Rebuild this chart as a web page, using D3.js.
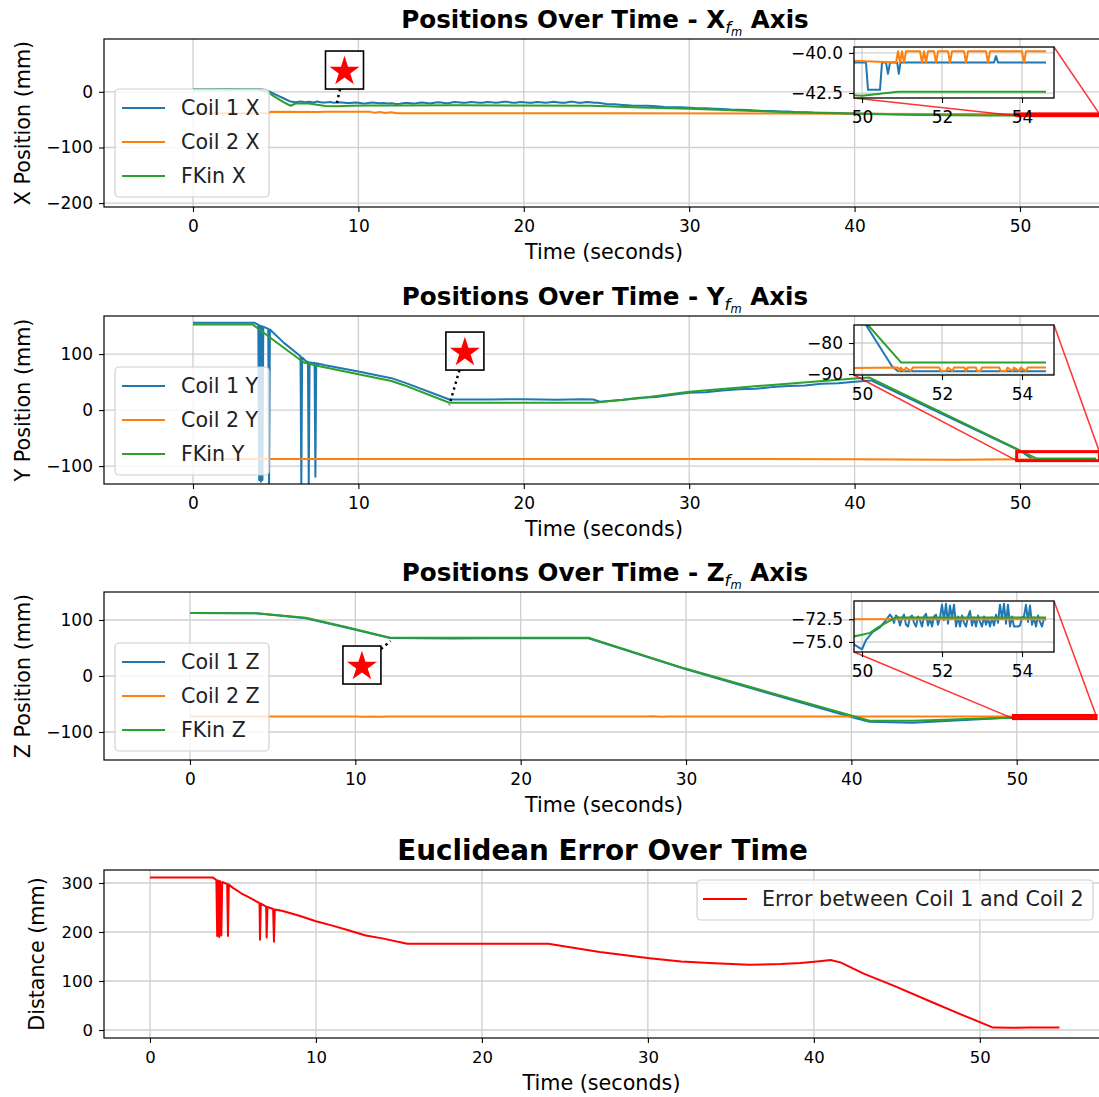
<!DOCTYPE html>
<html>
<head>
<meta charset="utf-8">
<script src="https://cdn.jsdelivr.net/npm/d3@7"></script>
<style>
  body { margin: 0; background: #fff; }
  svg { display: block; }
</style>
</head>
<body>
<svg id="chart" width="1099" height="1097"></svg>
<script>
// ---------- data: [time (s), value (mm)] ----------
const coil1X = [[0,4.8],[1,4.5],[2,5],[3,4.6],[4.2,4.5],[4.6,1],[5.0,-5],[5.5,-12],[5.9,-17.5],[6.2,-18.5],[6.5,-17.5],[6.8,-18.8],[7,-18],[7.3,-19],[7.5,-17.5],[7.8,-19.2],[8,-19],[8.3,-18.2],[8.5,-19.5],[8.8,-18.6],[9,-19],[9.3,-20.2],[9.5,-20],[9.8,-19],[10,-19.5],[10.3,-20.8],[10.5,-20.5],[10.8,-19.2],[11,-19.5],[11.3,-20.6],[11.5,-20],[11.8,-21],[12,-20.5],[12.3,-21.8],[12.5,-21.5],[12.8,-20.2],[13,-20],[13.3,-21],[13.5,-20.5],[13.8,-19.2],[14,-19.5],[14.3,-20.8],[14.5,-20],[14.8,-18.6],[15,-19],[15.3,-20.4],[15.5,-20],[15.8,-18.4],[16,-18.5],[16.3,-19.8],[16.5,-19.5],[16.8,-18.2],[17,-18.5],[17.3,-19.8],[17.5,-19.5],[17.8,-18.2],[18,-18.5],[18.3,-19.6],[18.5,-19],[18.8,-17.9],[19,-18],[19.3,-19.6],[19.5,-19.5],[19.8,-18.1],[20,-18.5],[20.3,-19.8],[20.5,-19.5],[20.8,-18.2],[21,-18.5],[21.3,-19.6],[21.5,-19],[21.8,-18],[22,-18.5],[22.3,-19.8],[22.5,-19.5],[22.8,-17.9],[23,-18],[23.3,-19.6],[23.5,-19.5],[23.8,-18.2],[24,-18.5],[24.3,-19.8],[24.5,-19.5],[25,-22],[25.5,-22.5],[26,-23.5],[26.5,-24.6],[27,-25],[27.5,-25.2],[28,-26],[28.5,-27.2],[29,-27.5],[29.5,-27.6],[30,-28.5],[30.5,-29.4],[31,-29.5],[31.5,-30.2],[32,-31],[32.5,-31.9],[33,-32],[33.5,-32.6],[34,-33.5],[34.5,-34.4],[35,-34.5],[35.5,-35.2],[36,-35.5],[36.5,-36.5],[37,-36.5],[37.5,-37.3],[38,-37.5],[39,-38],[40,-39],[42,-40],[44,-40.5],[46,-40.5],[48,-40.6],[50.1,-40.6],[50.15,-42.3],[50.45,-42.3],[50.5,-40.6],[50.6,-40.6],[50.65,-41.3],[50.7,-40.6],[50.88,-40.6],[50.92,-41.3],[50.96,-40.6],[53.3,-40.6],[53.35,-40.2],[53.4,-40.6],[54.6,-40.6]];
const coil2X = [[0,-38.4],[4.6,-38.4],[4.7,-36],[7.5,-36.2],[8,-35.8],[10.7,-36],[11,-37.5],[11.3,-36.2],[11.6,-38],[12,-36.5],[12.3,-38.4],[16,-38.4],[25,-38.6],[35,-39],[45,-40],[50.85,-40.6],[50.9,-39.9],[50.95,-40.6],[51.0,-39.9],[51.05,-40.6],[51.1,-39.9],[51.45,-39.9],[51.5,-40.6],[51.55,-39.9],[51.6,-40.6],[51.65,-39.9],[51.8,-39.9],[51.85,-40.6],[51.9,-39.9],[52.15,-39.9],[52.2,-40.6],[52.25,-39.9],[52.55,-39.9],[52.6,-40.6],[52.65,-39.9],[53.1,-39.9],[53.15,-40.6],[53.2,-39.9],[54.0,-39.9],[54.05,-40.6],[54.1,-39.9],[54.6,-39.9]];
const fkinX = [[0,4],[3.9,4],[4.5,0],[5.0,-10],[5.5,-19],[5.9,-25],[6.2,-21],[7,-21],[7.5,-23],[8,-25.5],[8.7,-26],[9.5,-25],[10.5,-24.5],[12,-24.5],[16,-24],[20,-24.5],[24,-25],[25,-26],[27,-28],[30,-30.5],[33,-33.5],[36.7,-37],[40,-39.5],[44,-41.5],[48,-42.4],[50,-42.67],[50.9,-42.42],[54.6,-42.42]];

const coil1Y = [[0,156],[3.7,156],[3.95,152],[4.0,-125],[4.05,151],[4.1,-128],[4.15,150],[4.2,-125],[4.25,149],[4.55,145],[4.6,-135],[4.65,144],[5.5,120],[6.5,96],[6.55,-135],[6.6,94],[6.8,88],[6.95,86],[7.0,-135],[7.05,85],[7.35,84],[7.4,-119],[7.45,83.5],[8,80],[10,69],[12,57],[12.8,49],[15.5,19],[18,19],[20,19.5],[22,18.5],[23.5,19.5],[24.2,19],[24.6,15],[26,18.5],[27,22],[28,23.5],[29,27.5],[30,31],[31,32],[32,35],[33,37],[34,38],[35,41],[36,43],[37,44],[38,47],[39,48],[40,50.6],[41,53],[50.1,-74.2],[50.75,-87.5],[50.9,-89.1],[54.6,-89.1]];
const coil2Y = [[0,-87.5],[10,-87.3],[20,-87.5],[30,-87.3],[40,-87.6],[46,-88.5],[50.9,-87.9],[50.93,-89],[50.97,-87.9],[51.05,-89],[51.1,-87.9],[51.22,-89],[51.27,-87.9],[51.93,-87.9],[51.97,-89],[52.1,-89],[52.15,-87.9],[52.26,-89],[52.3,-87.9],[52.56,-87.9],[52.6,-89],[52.64,-87.9],[52.85,-87.9],[52.88,-89],[52.96,-89],[53.0,-87.9],[53.43,-87.9],[53.47,-89],[53.6,-89],[53.64,-87.9],[53.76,-89],[53.8,-87.9],[53.93,-89],[53.97,-87.9],[54.1,-89],[54.14,-87.9],[54.6,-87.9]];
const fkinY = [[0,153],[3.6,153],[5,122],[6.7,85],[7.5,79],[10,64],[12,52],[12.8,44],[15.5,13],[24.2,13],[27,21],[30,32.7],[35,45],[40,56.6],[40.9,58],[50.15,-74.2],[50.98,-86.3],[54.6,-86.3]];

const coil1Z = [[0,112.5],[4,112],[7,103],[9.5,86],[12.1,68],[14,67.5],[16,67],[18,67.5],[20,67.5],[22,67.5],[24.1,67.5],[29.9,13],[35,-31],[40.1,-74],[41.1,-81.6],[43.7,-83.3],[46,-80],[49.5,-74.5],[50,-75.8],[50.1,-74.8],[50.27,-73.9],[50.45,-73.4],[50.6,-72.6],[50.7,-72.0],[50.75,-72.3],[50.8,-72.9],[50.85,-72.1],[50.9,-72.3],[50.95,-73.2],[51.0,-72.4],[51.05,-72.0],[51.1,-73.1],[51.15,-73.3],[51.2,-72.3],[51.25,-72.1],[51.3,-72.9],[51.35,-73.3],[51.4,-72.2],[51.45,-72.6],[51.5,-73.3],[51.55,-72.2],[51.6,-71.9],[51.65,-73.2],[51.7,-72.4],[51.75,-73.3],[51.8,-72.2],[51.85,-72.0],[51.9,-73.1],[51.95,-72.3],[52.0,-70.9],[52.05,-72.6],[52.1,-70.8],[52.15,-73.0],[52.2,-71.0],[52.25,-72.4],[52.3,-70.9],[52.35,-73.3],[52.4,-72.2],[52.45,-73.3],[52.5,-72.1],[52.55,-72.9],[52.6,-73.3],[52.65,-72.2],[52.7,-71.6],[52.75,-73.2],[52.8,-72.3],[52.85,-73.3],[52.9,-72.1],[52.95,-72.8],[53.0,-73.3],[53.05,-72.2],[53.1,-73.1],[53.15,-72.4],[53.2,-73.3],[53.25,-72.3],[53.3,-73.2],[53.35,-72.0],[53.4,-72.9],[53.45,-70.9],[53.5,-72.5],[53.55,-70.8],[53.6,-73.0],[53.65,-70.9],[53.7,-73.3],[53.75,-72.2],[53.8,-73.3],[53.85,-73.3],[53.9,-73.3],[53.95,-73.2],[54.0,-72.3],[54.05,-72.2],[54.1,-70.9],[54.15,-72.8],[54.2,-71.0],[54.25,-73.1],[54.3,-72.3],[54.35,-73.3],[54.4,-72.1],[54.45,-72.8],[54.5,-73.3],[54.55,-72.4],[54.6,-72.6]];
const coil2Z = [[0,-72.5],[10,-72.3],[10.5,-72.9],[11,-72.2],[11.5,-72.8],[12,-72.5],[27.5,-72.5],[28,-72.0],[28.5,-72.8],[29,-72.5],[54.6,-72.5]];
const fkinZ = [[0,112.5],[4,112],[7,104],[9.5,87],[12.1,68.4],[24.1,68.4],[29.9,13.7],[35,-29],[40.3,-73],[41.1,-79.8],[43.7,-79.8],[47,-77],[50,-74.2],[50.2,-74.0],[50.4,-73.4],[50.6,-72.9],[50.85,-72.3],[54.6,-72.3]];

const errorDist = [[0,311],[3.8,311],[4.0,306],[4.05,192],[4.1,305],[4.17,190],[4.22,304],[4.3,193],[4.35,302],[4.65,298],[4.7,192],[4.75,297],[5,290],[5.5,279],[6,270],[6.6,259],[6.63,184],[6.68,258],[7.0,252],[7.03,189],[7.08,251],[7.42,247],[7.47,180],[7.52,246],[8,243],[9,233],[10,222],[11,213],[12,203],[13,193],[14,187],[15.5,176],[18,176],[21,176],[24,176],[25.5,168],[27.1,159],[30.1,146.6],[32,140],[34,136],[36.1,133],[38,134.5],[39.2,136.6],[40.5,141],[41,143],[41.6,138],[43,115],[44.8,90.7],[47.2,55.6],[49,30],[50.8,5],[52,4.5],[53,5],[54.8,5]];

// ---------- ticks ----------
const timeTicks = [0,10,20,30,40,50];
const xPosTicks = [-200,-100,0];
const yPosTicks = [-100,0,100];
const zPosTicks = [-100,0,100];
const distTicks = [0,100,200,300];
const zoomTimeTicks = [50,52,54];
const zoomXTicks = [-40.0,-42.5];
const zoomYTicks = [-80,-90];
const zoomZTicks = [-72.5,-75.0];

// ---------- zoom windows (time range, value range) ----------
const zoomTime = [49.8,54.8];
const zoomXRange = [-42.81,-39.63];
const zoomYRange = [-90.3,-74.2];
const zoomZRange = [-76.1,-70.5];

// ---------- star callouts: [time, value] ----------
const starX = { box:[9.16,39.2], point:[8.7,-20] };
const starY = { box:[16.44,105.4], point:[15.5,8.9] };
const starZ = { box:[10.4,19.6], point:[12.13,62.5] };

const FONT = '"DejaVu Sans", "Liberation Sans", sans-serif';
const BLUE = "#1f77b4", ORANGE = "#ff7f0e", GREEN = "#2ca02c", RED = "#ff0000";
const GRID = "#cfcfcf";
const svg = d3.select("#chart");
const defs = svg.append("defs");

function styleAxis(g, size) {
  g.select(".domain").remove();
  g.attr("font-family", null).attr("font-size", null);
  g.selectAll(".tick line").attr("stroke", "#000").attr("stroke-width", 1.1);
  g.selectAll(".tick text").attr("fill", "#000").style("font-family", FONT).style("font-size", size + "px");
}

function drawLines(g, x, y, series, clipId) {
  const line = d3.line().x(d => x(d[0])).y(d => y(d[1]));
  g.append("g").attr("clip-path", `url(#${clipId})`)
    .selectAll("path").data(series).join("path")
    .attr("d", s => line(s.data))
    .attr("fill", "none")
    .attr("stroke", s => s.color)
    .attr("stroke-width", 2)
    .attr("stroke-linejoin", "round");
}

function addClip(id, x0, y0, w, h) {
  defs.append("clipPath").attr("id", id).append("rect")
    .attr("x", x0).attr("y", y0).attr("width", w).attr("height", h);
}

function drawPanel(p) {
  const g = svg.append("g");
  const x = d3.scaleLinear().domain(p.xDomain).range([p.left, p.right]);
  const y = d3.scaleLinear().domain(p.yDomain).range([p.bottom, p.top]);
  const clipId = "clip-" + p.id;
  addClip(clipId, p.left, p.top, p.right - p.left, p.bottom - p.top);

  // grid
  const grid = g.append("g").attr("stroke", GRID).attr("stroke-width", 1.3);
  grid.selectAll(".vx").data(p.xTicks).join("line")
    .attr("x1", d => x(d)).attr("x2", d => x(d)).attr("y1", p.top).attr("y2", p.bottom);
  grid.selectAll(".hy").data(p.yTicks).join("line")
    .attr("x1", p.left).attr("x2", p.right).attr("y1", d => y(d)).attr("y2", d => y(d));

  drawLines(g, x, y, p.series, clipId);

  // frame
  g.append("rect").attr("x", p.left).attr("y", p.top)
    .attr("width", p.right - p.left).attr("height", p.bottom - p.top)
    .attr("fill", "none").attr("stroke", "#000").attr("stroke-width", 1.2);

  // axes
  g.append("g").attr("transform", `translate(0,${p.bottom})`)
    .call(d3.axisBottom(x).tickValues(p.xTicks).tickSize(5).tickPadding(8).tickFormat(d3.format("d")))
    .call(a => styleAxis(a, p.tickSize));
  g.append("g").attr("transform", `translate(${p.left},0)`)
    .call(d3.axisLeft(y).tickValues(p.yTicks).tickSize(5).tickPadding(6).tickFormat(d3.format("d")))
    .call(a => styleAxis(a, p.tickSize));

  // title
  const t = g.append("text").attr("x", (p.left + p.right) / 2).attr("y", p.top - p.titleGap)
    .attr("text-anchor", "middle").style("font-family", FONT).style("font-weight", "bold")
    .style("font-size", p.titleSize + "px").attr("fill", "#000");
  if (p.axisName) {
    t.append("tspan").text("Positions Over Time - " + p.axisName);
    t.append("tspan").text("f").attr("dy", 5).style("font-size", "16.5px")
      .style("font-style", "italic").style("font-weight", "normal");
    t.append("tspan").text("m").attr("dy", 3).style("font-size", "11.5px")
      .style("font-style", "italic").style("font-weight", "normal");
    t.append("tspan").text(" Axis").attr("dy", -8);
  } else {
    t.text(p.title);
  }

  // axis labels
  g.append("text").attr("x", (p.left + p.right) / 2 - 1).attr("y", p.bottom + 52)
    .attr("text-anchor", "middle").style("font-family", FONT).style("font-size", p.labelSize + "px")
    .attr("fill", "#000").text("Time (seconds)");
  g.append("text").attr("transform", `translate(${p.ylabelX},${(p.top + p.bottom) / 2}) rotate(-90)`)
    .attr("text-anchor", "middle").style("font-family", FONT).style("font-size", p.labelSize + "px")
    .attr("fill", "#000").text(p.ylabel);

  // star callout
  if (p.star) drawStar(g, x, y, p.star);

  // legend
  drawLegend(g, p.legend, p.series);

  // zoomed inset
  if (p.inset) drawInset(g, x, y, p);
}

function drawStar(g, x, y, s) {
  const bx = x(s.box[0]), by = y(s.box[1]);
  const px = x(s.point[0]), py = y(s.point[1]);
  const half = 19;
  // leave the box from its edge along the line towards the point
  const dx = px - bx, dy = py - by;
  const k = half / Math.max(Math.abs(dx), Math.abs(dy));
  g.append("line").attr("x1", bx + dx * k).attr("y1", by + dy * k).attr("x2", px).attr("y2", py)
    .attr("stroke", "#000").attr("stroke-width", 2.4).attr("stroke-dasharray", "2.4,3.6");
  g.append("rect").attr("x", bx - half).attr("y", by - half).attr("width", 2 * half).attr("height", 2 * half)
    .attr("fill", "#fff").attr("stroke", "#000").attr("stroke-width", 1.6);
  g.append("path").attr("d", d3.symbol(d3.symbolStar, 280)())
    .attr("transform", `translate(${bx},${by + 1.5})`).attr("fill", RED);
}

function drawLegend(g, L, series) {
  const lg = g.append("g");
  lg.append("rect").attr("x", L.x).attr("y", L.y).attr("width", L.w).attr("height", L.h)
    .attr("rx", 4).attr("fill", "#fff").attr("fill-opacity", 0.8)
    .attr("stroke", "#d0d0d0").attr("stroke-width", 1.2);
  const rows = lg.selectAll(".row").data(series).join("g")
    .attr("transform", (d, i) => `translate(${L.x},${L.y + L.first + i * L.step})`);
  rows.append("line").attr("x1", L.lineX0).attr("x2", L.lineX1).attr("y1", 0).attr("y2", 0)
    .attr("stroke", d => d.color).attr("stroke-width", 2);
  rows.append("text").attr("x", L.textX).attr("y", 0).attr("dy", "0.36em")
    .style("font-family", FONT).style("font-size", L.size + "px").attr("fill", "#222").text(d => d.name);
}

function drawInset(g, x, y, p) {
  const I = p.inset;
  const ix = d3.scaleLinear().domain(zoomTime).range([I.left, I.right]);
  const iy = d3.scaleLinear().domain(I.range).range([I.bottom, I.top]);

  // zoom marker on the main axes
  const rx0 = x(zoomTime[0]), rx1 = x(zoomTime[1]);
  const ry0 = y(I.range[0]), ry1 = y(I.range[1]);
  g.append("rect").attr("x", rx0).attr("y", ry1).attr("width", rx1 - rx0).attr("height", ry0 - ry1)
    .attr("fill", "none").attr("stroke", RED).attr("stroke-width", 3);
  g.append("line").attr("x1", I.left).attr("y1", I.bottom).attr("x2", rx0).attr("y2", ry0)
    .attr("stroke", RED).attr("stroke-width", 1.5).attr("stroke-opacity", 0.8);
  g.append("line").attr("x1", I.right).attr("y1", I.top).attr("x2", rx1).attr("y2", ry1)
    .attr("stroke", RED).attr("stroke-width", 1.5).attr("stroke-opacity", 0.8);

  const ig = g.append("g");
  const clipId = "clip-inset-" + p.id;
  addClip(clipId, I.left, I.top, I.right - I.left, I.bottom - I.top);
  ig.append("rect").attr("x", I.left).attr("y", I.top).attr("width", I.right - I.left)
    .attr("height", I.bottom - I.top).attr("fill", "#fff");
  const grid = ig.append("g").attr("stroke", GRID).attr("stroke-width", 1.3);
  grid.selectAll(".vx").data(zoomTimeTicks).join("line")
    .attr("x1", d => ix(d)).attr("x2", d => ix(d)).attr("y1", I.top).attr("y2", I.bottom);
  grid.selectAll(".hy").data(I.ticks).join("line")
    .attr("x1", I.left).attr("x2", I.right).attr("y1", d => iy(d)).attr("y2", d => iy(d));
  drawLines(ig, ix, iy, p.series, clipId);
  ig.append("rect").attr("x", I.left).attr("y", I.top).attr("width", I.right - I.left)
    .attr("height", I.bottom - I.top).attr("fill", "none").attr("stroke", "#000").attr("stroke-width", 1.3);
  ig.append("g").attr("transform", `translate(0,${I.bottom})`)
    .call(d3.axisBottom(ix).tickValues(zoomTimeTicks).tickSize(5).tickPadding(8).tickFormat(d3.format("d")))
    .call(a => styleAxis(a, p.tickSize));
  ig.append("g").attr("transform", `translate(${I.left},0)`)
    .call(d3.axisLeft(iy).tickValues(I.ticks).tickSize(5).tickPadding(6).tickFormat(d3.format(I.fmt)))
    .call(a => styleAxis(a, p.tickSize));
}

const posLegend = (top) => ({ x: 115, y: top, w: 154, h: 108, first: 19, step: 34,
  lineX0: 7, lineX1: 50, textX: 66, size: 20.6 });

const panels = [
  { id: "x", axisName: "X", ylabel: "X Position (mm)", left: 104, right: 1106, top: 39, bottom: 207,
    xDomain: [-5.38, 55.2], yDomain: [-207, 95], xTicks: timeTicks, yTicks: xPosTicks,
    tickSize: 17, labelSize: 20.7, titleSize: 24.6, titleGap: 11, ylabelX: 30,
    series: [{ data: coil1X, color: BLUE, name: "Coil 1 X" }, { data: coil2X, color: ORANGE, name: "Coil 2 X" },
             { data: fkinX, color: GREEN, name: "FKin X" }],
    legend: posLegend(89), star: starX,
    inset: { left: 854, right: 1054, top: 47, bottom: 98, range: zoomXRange, ticks: zoomXTicks, fmt: ".1f" } },
  { id: "y", axisName: "Y", ylabel: "Y Position (mm)", left: 104, right: 1106, top: 316, bottom: 484,
    xDomain: [-5.38, 55.2], yDomain: [-132, 168], xTicks: timeTicks, yTicks: yPosTicks,
    tickSize: 17, labelSize: 20.7, titleSize: 24.6, titleGap: 11, ylabelX: 30,
    series: [{ data: coil1Y, color: BLUE, name: "Coil 1 Y" }, { data: coil2Y, color: ORANGE, name: "Coil 2 Y" },
             { data: fkinY, color: GREEN, name: "FKin Y" }],
    legend: posLegend(367), star: starY,
    inset: { left: 854, right: 1054, top: 325, bottom: 375, range: zoomYRange, ticks: zoomYTicks, fmt: "d" } },
  { id: "z", axisName: "Z", ylabel: "Z Position (mm)", left: 104, right: 1106, top: 592, bottom: 760,
    xDomain: [-5.2, 55.4], yDomain: [-150, 150], xTicks: timeTicks, yTicks: zPosTicks,
    tickSize: 17, labelSize: 20.7, titleSize: 24.6, titleGap: 11, ylabelX: 30,
    series: [{ data: coil1Z, color: BLUE, name: "Coil 1 Z" }, { data: coil2Z, color: ORANGE, name: "Coil 2 Z" },
             { data: fkinZ, color: GREEN, name: "FKin Z" }],
    legend: posLegend(643), star: starZ,
    inset: { left: 854, right: 1054, top: 601, bottom: 652, range: zoomZRange, ticks: zoomZTicks, fmt: ".1f" } },
  { id: "err", title: "Euclidean Error Over Time", ylabel: "Distance (mm)", left: 104, right: 1101, top: 870, bottom: 1038,
    xDomain: [-2.77, 57.3], yDomain: [-16.3, 326.5], xTicks: timeTicks, yTicks: distTicks,
    tickSize: 16.5, labelSize: 20.7, titleSize: 27.8, titleGap: 10, ylabelX: 44,
    series: [{ data: errorDist, color: RED, name: "Error between Coil 1 and Coil 2" }],
    legend: { x: 697, y: 880, w: 396, h: 40, first: 19, step: 34, lineX0: 6, lineX1: 50, textX: 65, size: 20.7 } }
];

panels.forEach(drawPanel);
</script>
</body>
</html>
